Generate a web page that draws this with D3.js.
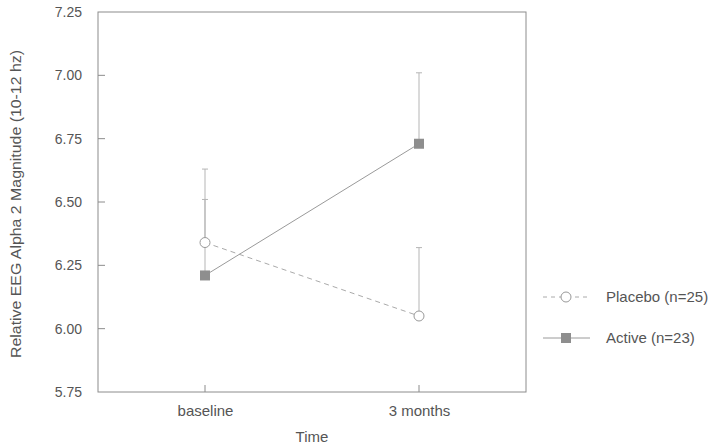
<!DOCTYPE html>
<html>
<head>
<meta charset="utf-8">
<script src="https://cdn.jsdelivr.net/npm/d3@7"></script>
<style>
  body { margin: 0; background: #fff; }
  svg { font-family: Arial, "Liberation Sans", sans-serif; }
</style>
</head>
<body>
<svg width="715" height="444"></svg>
<script>
'use strict';

// data
var times = ['baseline', '3 months'];
var yTicks = [5.75, 6.00, 6.25, 6.50, 6.75, 7.00, 7.25];
var placeboMean = [6.34, 6.05];
var placeboUpper = [6.63, 6.32];
var activeMean = [6.21, 6.73];
var activeUpper = [6.51, 7.01];
var seriesNames = ['Placebo (n=25)', 'Active (n=23)'];

var svg = d3.select('svg');
var margin = {top: 12, right: 189, bottom: 52, left: 98};
var width = 715 - margin.left - margin.right;
var height = 444 - margin.top - margin.bottom;

var x = d3.scalePoint().domain(times).range([0, width]).padding(0.5);
var y = d3.scaleLinear().domain([5.75, 7.25]).range([height, 0]);

var lineColor = '#9a9a9a';
var textColor = '#555';

var g = svg.append('g')
  .attr('transform', 'translate(' + margin.left + ',' + margin.top + ')');

// frame
g.append('rect')
  .attr('width', width)
  .attr('height', height)
  .attr('fill', 'none')
  .attr('stroke', '#8c8c8c')
  .attr('stroke-width', 1);

// y axis, ticks pointing inward
var yAxis = g.append('g')
  .call(d3.axisLeft(y).tickValues(yTicks).tickFormat(d3.format('.2f')).tickSize(0).tickPadding(16));
yAxis.select('.domain').remove();
yAxis.selectAll('text').attr('fill', textColor).style('font-size', '14px');
g.selectAll('.ytick')
  .data(yTicks.slice(1, -1))
  .enter()
  .append('line')
  .attr('x1', 0).attr('x2', 7)
  .attr('y1', function(d) { return y(d); })
  .attr('y2', function(d) { return y(d); })
  .attr('stroke', '#8c8c8c');

// x axis
var xAxis = g.append('g')
  .attr('transform', 'translate(0,' + height + ')')
  .call(d3.axisBottom(x).tickSize(0).tickPadding(13));
xAxis.select('.domain').remove();
xAxis.selectAll('text').attr('fill', textColor).style('font-size', '15px');
g.selectAll('.xtick')
  .data(times)
  .enter()
  .append('line')
  .attr('x1', function(d) { return x(d); })
  .attr('x2', function(d) { return x(d); })
  .attr('y1', height).attr('y2', height - 7)
  .attr('stroke', '#8c8c8c');

// axis titles
svg.append('text')
  .attr('transform', 'translate(21,204) rotate(-90)')
  .attr('text-anchor', 'middle')
  .attr('fill', textColor)
  .style('font-size', '14px')
  .attr('textLength', 308)
  .attr('lengthAdjust', 'spacingAndGlyphs')
  .text('Relative EEG Alpha 2 Magnitude (10-12 hz)');

svg.append('text')
  .attr('x', margin.left + width / 2)
  .attr('y', 442)
  .attr('text-anchor', 'middle')
  .attr('fill', textColor)
  .style('font-size', '15px')
  .text('Time');

function rows(mean, upper) {
  return times.map(function(t, i) { return {t: t, m: mean[i], u: upper[i]}; });
}
var placebo = rows(placeboMean, placeboUpper);
var active = rows(activeMean, activeUpper);

var line = d3.line()
  .x(function(d) { return x(d.t); })
  .y(function(d) { return y(d.m); });

// error bars (upper only)
function errorBars(data) {
  var e = g.append('g').selectAll('g').data(data).enter().append('g');
  e.append('line')
    .attr('x1', function(d) { return x(d.t); })
    .attr('x2', function(d) { return x(d.t); })
    .attr('y1', function(d) { return y(d.m); })
    .attr('y2', function(d) { return y(d.u); })
    .attr('stroke', '#b5b5b5');
  e.append('line')
    .attr('x1', function(d) { return x(d.t) - 3; })
    .attr('x2', function(d) { return x(d.t) + 3; })
    .attr('y1', function(d) { return y(d.u); })
    .attr('y2', function(d) { return y(d.u); })
    .attr('stroke', '#b5b5b5');
}
errorBars(placebo);
errorBars(active);

// lines
g.append('path')
  .datum(placebo)
  .attr('d', line)
  .attr('fill', 'none')
  .attr('stroke', '#aaa')
  .attr('stroke-dasharray', '5,4');

g.append('path')
  .datum(active)
  .attr('d', line)
  .attr('fill', 'none')
  .attr('stroke', lineColor);

// markers
g.selectAll('.pc')
  .data(placebo)
  .enter()
  .append('circle')
  .attr('cx', function(d) { return x(d.t); })
  .attr('cy', function(d) { return y(d.m); })
  .attr('r', 5)
  .attr('fill', '#fff')
  .attr('stroke', '#999');

g.selectAll('.as')
  .data(active)
  .enter()
  .append('rect')
  .attr('x', function(d) { return x(d.t) - 5; })
  .attr('y', function(d) { return y(d.m) - 5; })
  .attr('width', 10)
  .attr('height', 10)
  .attr('fill', '#8e8e8e');

// legend
var legend = svg.append('g');
var ly = [297, 338];
seriesNames.forEach(function(name, i) {
  var row = legend.append('g').attr('transform', 'translate(543,' + ly[i] + ')');
  row.append('line')
    .attr('x1', 0).attr('x2', 47)
    .attr('stroke', i === 0 ? '#aaa' : lineColor)
    .attr('stroke-dasharray', i === 0 ? '4,4' : null);
  if (i === 0) {
    row.append('circle').attr('cx', 23).attr('r', 5).attr('fill', '#fff').attr('stroke', '#999');
  } else {
    row.append('rect').attr('x', 18).attr('y', -5).attr('width', 10).attr('height', 10).attr('fill', '#8e8e8e');
  }
  row.append('text')
    .attr('x', 63)
    .attr('dy', '0.35em')
    .attr('fill', textColor)
    .style('font-size', '15px')
    .text(name);
});
</script>
</body>
</html>
